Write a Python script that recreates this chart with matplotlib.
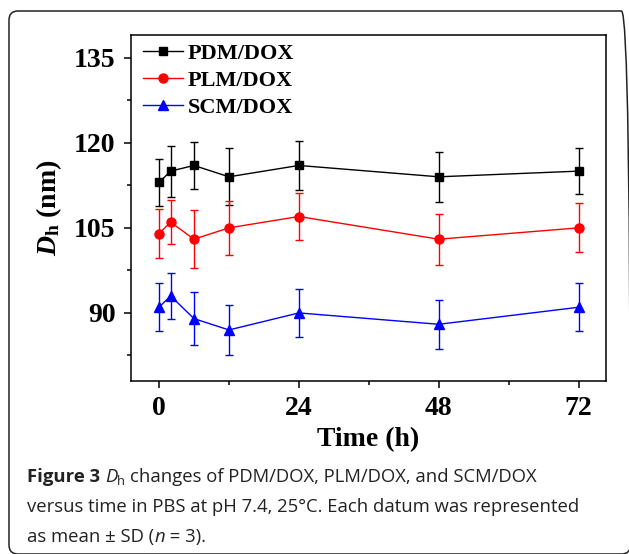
import numpy as np
import matplotlib
matplotlib.use('Agg')
import matplotlib.pyplot as plt
from matplotlib.patches import FancyBboxPatch
from matplotlib.transforms import IdentityTransform
from matplotlib.ticker import MultipleLocator

plt.rcParams.update({
    'font.family': 'Liberation Serif',
    'font.weight': 'bold',
    'mathtext.fontset': 'custom',
    'mathtext.rm': 'Liberation Serif:bold',
    'mathtext.it': 'Liberation Serif:bold:italic',
    'mathtext.bf': 'Liberation Serif:bold',
})

# ---- data ----
time_h = [0, 2, 6, 12, 24, 48, 72]
pdm_mean = [113.0, 115.0, 116.0, 114.0, 116.0, 114.0, 115.0]
pdm_sd = [4.2, 4.5, 4.1, 5.0, 4.3, 4.4, 4.1]
plm_mean = [104.0, 106.0, 103.0, 105.0, 107.0, 103.0, 105.0]
plm_sd = [4.4, 3.9, 5.1, 4.7, 4.2, 4.5, 4.3]
scm_mean = [91.0, 93.0, 89.0, 87.0, 90.0, 88.0, 91.0]
scm_sd = [4.2, 4.0, 4.7, 4.4, 4.2, 4.3, 4.2]

series = [
    ('PDM/DOX', pdm_mean, pdm_sd, 'black', 's', 6.0),
    ('PLM/DOX', plm_mean, plm_sd, '#ff0000', 'o', 6.5),
    ('SCM/DOX', scm_mean, scm_sd, '#0000ff', '^', 7.0),
]

W, H = 629, 554
fig = plt.figure(figsize=(W/100, H/100), dpi=100)
ax = fig.add_axes([131/W, (H-381)/H, 475/W, 346/H])

for name, m, sd, col, mk, ms in series:
    ax.errorbar(time_h, m, yerr=sd, color=col, fmt='none', elinewidth=1.0,
                capsize=3, capthick=1.0)
    ax.plot(time_h, m, color=col, marker=mk, ms=ms, lw=1.0, label=name)

ax.set_xlim(-4.8, 76.7)
ax.set_ylim(78, 139)
ax.xaxis.set_major_locator(MultipleLocator(24))
ax.xaxis.set_minor_locator(MultipleLocator(12))
ax.yaxis.set_major_locator(MultipleLocator(15))
ax.yaxis.set_minor_locator(MultipleLocator(7.5))
ax.tick_params(which='major', direction='out', length=5, width=1.1, labelsize=20, pad=6)
ax.tick_params(which='minor', direction='out', length=3, width=1.1)
ax.tick_params(top=False, right=False)
for s in ax.spines.values():
    s.set_linewidth(1.1)

ax.set_xlabel('Time (h)', fontsize=20, fontweight='bold', labelpad=4)
ax.set_ylabel(r'$D_\mathrm{h}$ (nm)', fontsize=20, fontweight='bold', labelpad=7)

leg = ax.legend(loc='upper left', frameon=False, fontsize=16, handlelength=1.8,
                handletextpad=0.2, labelspacing=0.3, borderpad=0, borderaxespad=0,
                bbox_to_anchor=(12/475, 1 - 8/346))

# ---- rounded frame ----
box = FancyBboxPatch((9, 0), 621.5, 543, boxstyle='round,pad=0,rounding_size=9',
                     transform=IdentityTransform(), fill=False, ec='#222222', lw=1.1)
fig.patches.append(box)

# ---- caption ----
cap_fs = 13.3
cap_col = '#222222'
fig.canvas.draw()
rend = fig.canvas.get_renderer()


def text_w(s, **kw):
    t = fig.text(0, 0, s, fontsize=kw.get('size', cap_fs), family='Open Sans',
                 weight=kw.get('weight', 'normal'), style=kw.get('style', 'normal'))
    w = t.get_window_extent(rend).width
    t.remove()
    return w


space = text_w('x x') - text_w('xx')


def caption_line(pieces, x, ybase):
    # pieces: (text, weight, style, size, dy, gap_after)
    for txt, weight, style, size, dy, gap in pieces:
        t = fig.text(x / W, (H - ybase + dy) / H, txt, fontsize=size, family='Open Sans',
                     weight=weight, style=style, color=cap_col, va='baseline', ha='left')
        x += t.get_window_extent(rend).width + gap * space


caption_line([('Figure 3', 'bold', 'normal', cap_fs, 0, 1),
              ('D', 'normal', 'italic', cap_fs, 0, 0),
              ('h', 'normal', 'normal', cap_fs * 0.7, -3, 1),
              ('changes of PDM/DOX, PLM/DOX, and SCM/DOX', 'normal', 'normal', cap_fs, 0, 0)],
             27, 482)
caption_line([('versus time in PBS at pH 7.4, 25°C. Each datum was represented',
               'normal', 'normal', cap_fs, 0, 0)], 27, 512)
caption_line([('as mean \u00b1 SD (', 'normal', 'normal', cap_fs, 0, 0),
              ('n', 'normal', 'italic', cap_fs, 0, 0),
              (' = 3).', 'normal', 'normal', cap_fs, 0, 0)], 27, 542)

fig.savefig('out.png', dpi=100)
